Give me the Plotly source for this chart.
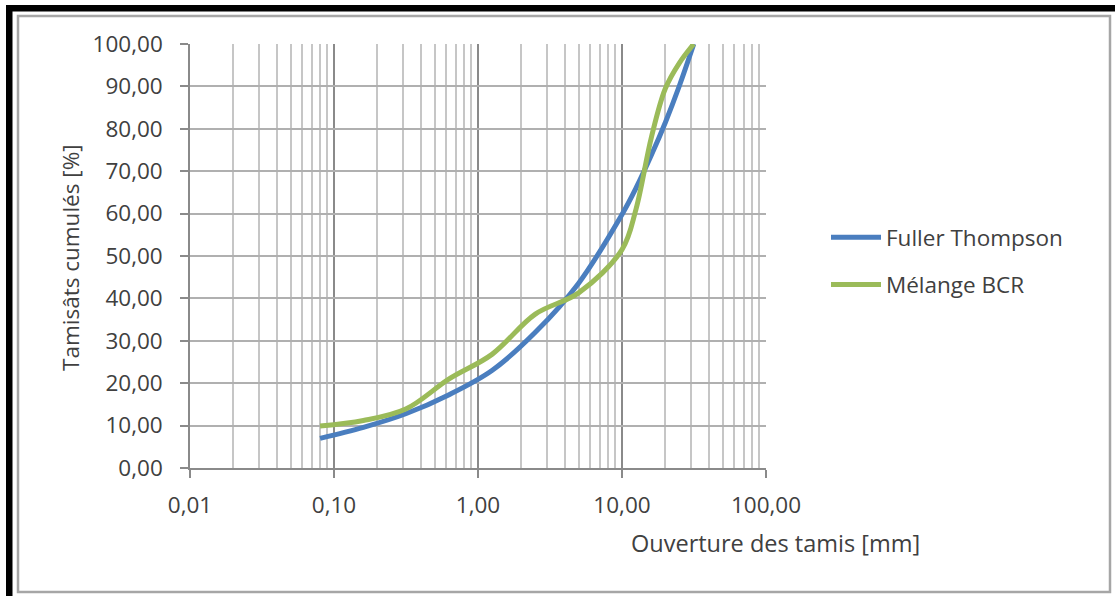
import plotly.graph_objects as go

# Sieve openings [mm]
sieves = [0.08, 0.16, 0.315, 0.63, 1.25, 2.5, 5, 10, 12.5, 16, 20, 25, 31.5]
fuller = [7.0, 9.6, 12.8, 17.3, 23.0, 32.0, 43.6, 59.8, 66.0, 73.8, 81.5, 90.1, 100.0]
melange = [9.9, 11.2, 13.9, 21.0, 26.8, 36.3, 41.3, 51.5, 61.0, 78.0, 89.5, 95.5, 100.0]

x_tickvals = [0.01, 0.1, 1, 10, 100]
x_ticktext = ["0,01", "0,10", "1,00", "10,00", "100,00"]
y_tickvals = [0, 10, 20, 30, 40, 50, 60, 70, 80, 90, 100]

series_names = ["Fuller Thompson", "Mélange BCR"]
colors = ["#4a7ebf", "#9bbb59"]

FONT = "Open Sans"
TXT = "#404040"
FS = 22.5

# geometry (pixels) of the page
W, H = 1115, 596
L, R, T, B = 190, 349, 44, 128
PW, PH = W - L - R, H - T - B


def px(xp):
    return (xp - L) / PW


def py(yp):
    return (H - B - yp) / PH


minor_vals = [m * 10 ** e for e in range(-2, 2) for m in range(2, 10)]

fig = go.Figure()
for i, (name, ys) in enumerate(zip(series_names, [fuller, melange])):
    fig.add_trace(go.Scatter(
        x=sieves, y=ys, name=name, mode="lines",
        line=dict(color=colors[i], width=5, shape="spline", smoothing=1.0),
        legendgroup=name,
    ))

fig.update_layout(
    width=W, height=H,
    margin=dict(l=L, r=R, t=T, b=B, pad=0),
    paper_bgcolor="white", plot_bgcolor="white",
    separators=", ",
    font=dict(family=FONT, size=FS, color=TXT),
    showlegend=True,
    legend=dict(
        x=px(826), y=py(261), xanchor="left", yanchor="middle",
        font=dict(family=FONT, size=FS, color=TXT),
        tracegroupgap=15, traceorder="grouped",
        bgcolor="rgba(0,0,0,0)", itemwidth=50,
    ),
    xaxis=dict(
        type="log", range=[-2, 2],
        tickvals=x_tickvals, ticktext=x_ticktext,
        ticks="outside", ticklen=8, tickwidth=1.5, tickcolor="#8a8a8a",
        showline=True, linecolor="#8a8a8a", linewidth=1.5,
        showgrid=True, gridcolor="#8a8a8a", gridwidth=1.5,
        minor=dict(tickvals=minor_vals, showgrid=True, gridcolor="#c6c6c6",
                   gridwidth=1.5, ticks=""),
        zeroline=False,
        ticklabelstandoff=8,
        tickfont=dict(family=FONT, size=FS, color=TXT),
    ),
    yaxis=dict(
        range=[0, 100], tickvals=y_tickvals, tickformat=".2f",
        ticks="outside", ticklen=8, tickwidth=1.5, tickcolor="#8a8a8a",
        showline=True, linecolor="#8a8a8a", linewidth=1.5,
        showgrid=True, gridcolor="#b0b0b0", gridwidth=1.5,
        zeroline=False,
        ticklabelstandoff=13,
        tickfont=dict(family=FONT, size=FS, color=TXT),
    ),
)

# axis titles placed as in the original (Excel-style positions)
fig.add_annotation(text="Ouverture des tamis [mm]", xref="paper", yref="paper",
                   x=px(775), y=py(543), showarrow=False,
                   font=dict(family=FONT, size=23.5, color=TXT),
                   xanchor="center", yanchor="middle")
fig.add_annotation(text="Tamisâts cumulés [%]", xref="paper", yref="paper",
                   x=px(70), y=py(258), showarrow=False, textangle=-90,
                   font=dict(family=FONT, size=FS, color=TXT),
                   xanchor="center", yanchor="middle")

# frame: thin grey chart-area border and thick black edges
fig.add_shape(type="rect", xref="paper", yref="paper",
              x0=px(18), x1=px(1110), y0=py(592), y1=py(16),
              line=dict(color="#a6a6a6", width=2.5), fillcolor="rgba(0,0,0,0)")
fig.add_shape(type="rect", xref="paper", yref="paper",
              x0=px(6), x1=px(1115), y0=py(11.5), y1=py(5),
              line=dict(width=0), fillcolor="black")
fig.add_shape(type="rect", xref="paper", yref="paper",
              x0=px(6), x1=px(12.5), y0=py(596), y1=py(5),
              line=dict(width=0), fillcolor="black")

fig.write_html("out.html", config={"displayModeBar": False},
               post_script="document.body.style.margin='0';document.body.style.overflow='hidden';")
